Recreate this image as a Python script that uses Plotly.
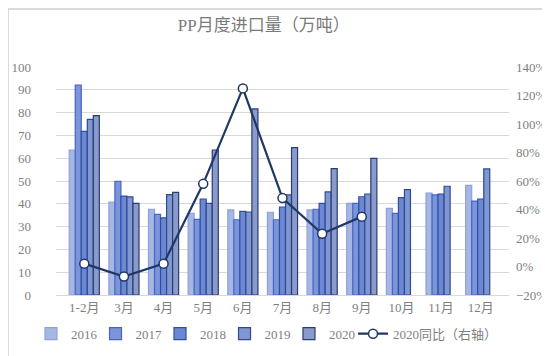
import plotly.graph_objects as go

months = ["1-2月", "3月", "4月", "5月", "6月", "7月", "8月", "9月", "10月", "11月", "12月"]
v2016 = [63.6, 40.8, 37.6, 35.8, 37.3, 36.3, 37.3, 40.2, 38.0, 44.7, 48.1]
v2017 = [92.1, 49.9, 35.4, 33.2, 33.0, 33.0, 37.6, 40.2, 35.8, 43.9, 41.2]
v2018 = [71.8, 43.4, 33.8, 42.1, 36.7, 38.6, 40.2, 43.1, 42.7, 44.2, 42.1]
v2019 = [77.0, 43.0, 44.0, 40.2, 36.4, 43.9, 45.2, 44.3, 46.2, 47.7, 55.3]
v2020 = [78.7, 40.2, 45.0, 63.6, 81.6, 64.6, 55.4, 59.9, None, None, None]
yoy2020 = [2, -7, 2, 58, 125, 48, 23, 35, None, None, None]

series = [
    ("2016", v2016, "#a7b7e3", "#8ea2d9"),
    ("2017", v2017, "#7b94da", "#4666c2"),
    ("2018", v2018, "#6d88d3", "#2e4f9e"),
    ("2019", v2019, "#8097d2", "#2f4a92"),
    ("2020", v2020, "#8a9bcb", "#283d72"),
]

font_family = "Liberation Serif, Noto Sans CJK SC, serif"
gray = "#7f7f7f"

legend_ids = ["legend", "legend2", "legend3", "legend4", "legend5", "legend6"]
legend_x = [-0.0552, 0.0872, 0.2296, 0.372, 0.5143, 0.6556]

fig = go.Figure()
for i, (name, vals, fill, line) in enumerate(series):
    fig.add_trace(go.Bar(
        x=months, y=vals, name=name, legend=legend_ids[i],
        marker=dict(color=fill, line=dict(color=line, width=1.2)),
    ))

fig.add_trace(go.Scatter(
    x=months, y=yoy2020, name="2020同比（右轴）", yaxis="y2", legend=legend_ids[5],
    mode="lines+markers",
    line=dict(color="#203864", width=2.2),
    marker=dict(symbol="circle", size=9, color="white", line=dict(color="#203864", width=1.5)),
))

leg_common = dict(orientation="h", xanchor="left", y=-0.17, yanchor="middle",
                  font=dict(size=13, color=gray, family=font_family), itemwidth=30,
                  tracegroupgap=0, traceorder="normal", bgcolor="rgba(0,0,0,0)")

legends = {lid: dict(x=lx, **leg_common) for lid, lx in zip(legend_ids, legend_x)}

fig.update_layout(
    width=550, height=356,
    margin=dict(l=48, r=49, t=59, b=69, autoexpand=False),
    paper_bgcolor="white", plot_bgcolor="white",
    font=dict(family=font_family, color=gray, size=13),
    title=dict(text="PP月度进口量（万吨）", x=0.465, xanchor="center", y=0.952, yanchor="middle",
               font=dict(size=17, color="#7a7a7a", family=font_family)),
    barmode="group", bargap=0.24, bargroupgap=0.0,
    showlegend=True,
    xaxis=dict(showgrid=False, showline=True, linecolor="#d9d9d9", ticks="",
               tickfont=dict(size=13, color=gray), fixedrange=True, ticklabelstandoff=0),
    yaxis=dict(range=[0, 100], dtick=10, showgrid=True, gridcolor="#d9d9d9", gridwidth=1,
               zeroline=False, showline=False, ticks="", tickfont=dict(size=13, color=gray),
               ticklabelstandoff=24),
    yaxis2=dict(range=[-20, 140], dtick=20, overlaying="y", side="right", showgrid=False,
                zeroline=False, showline=False, ticksuffix="%", tickfont=dict(size=13, color=gray),
                ticklabelstandoff=6),
    shapes=[dict(type="rect", xref="paper", yref="paper",
                 x0=-48/453, x1=1+48/453, y0=-68/228, y1=1+58/228,
                 line=dict(color="#d0d0d0", width=1.5), fillcolor="rgba(0,0,0,0)", layer="below")],
    **legends,
)

fig.write_html("out.html")
